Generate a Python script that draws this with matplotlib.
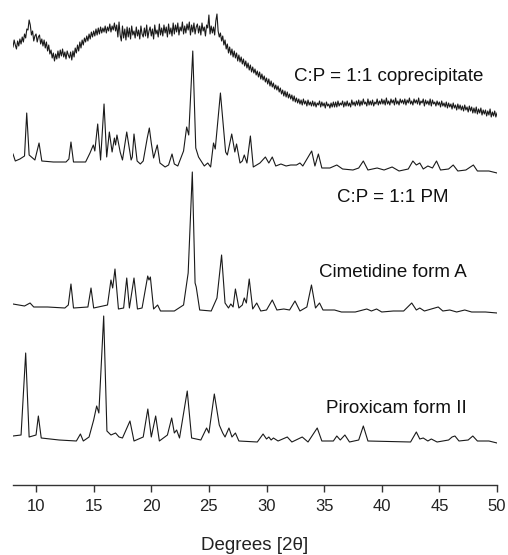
import numpy as np
import matplotlib
matplotlib.use("Agg")
import matplotlib.pyplot as plt

plt.rcParams['font.family'] = ['Liberation Sans', 'DejaVu Sans']

# ---------------- data (2-theta in degrees, intensity in arbitrary counts) -------------
labels = ["C:P = 1:1 coprecipitate", "C:P = 1:1 PM", "Cimetidine form A", "Piroxicam form II"]

# coprecipitate: scan sampled every 0.1 deg from 8 to 50 (one row per degree)
copre_int = [
    68, 75, 70, 66, 74, 69, 76, 71, 78, 73,   # 8
    81, 77, 86, 85, 95, 90, 80, 84, 74, 79,   # 9
    81, 73, 78, 80, 71, 76, 69, 75, 67, 73,   # 10
    64, 70, 61, 65, 57, 62, 54, 61, 56, 64,   # 11
    57, 65, 59, 66, 58, 63, 56, 64, 60, 57,   # 12
    63, 55, 64, 58, 67, 62, 70, 64, 73, 67,   # 13
    75, 70, 77, 73, 79, 74, 81, 76, 83, 78,   # 14
    84, 79, 86, 80, 87, 81, 88, 82, 87, 83,   # 15
    89, 82, 88, 84, 91, 83, 89, 85, 92, 84,   # 16
    90, 78, 93, 80, 74, 89, 77, 86, 75, 88,   # 17
    78, 87, 76, 89, 80, 84, 77, 88, 79, 85,   # 18
    76, 89, 81, 78, 87, 79, 90, 77, 84, 88,   # 19
    79, 86, 76, 90, 81, 85, 78, 91, 80, 87,   # 20
    79, 90, 82, 88, 78, 91, 81, 87, 79, 92,   # 21
    81, 90, 83, 92, 80, 88, 84, 93, 81, 89,   # 22
    82, 91, 85, 93, 80, 90, 83, 92, 81, 88,   # 23
    91, 82, 89, 80, 92, 84, 88, 79, 90, 87,   # 24
    100, 81, 89, 82, 88, 80, 94, 101, 84, 78, # 25
    82, 74, 79, 70, 75, 66, 71, 62, 68, 60,   # 26
    66, 58, 64, 57, 62, 54, 60, 53, 58, 51,   # 27
    56, 49, 54, 47, 52, 45, 50, 43, 48, 42,   # 28
    46, 40, 44, 38, 43, 36, 41, 35, 39, 33,   # 29
    37, 31, 36, 29, 34, 28, 32, 26, 30, 25,   # 30
    29, 23, 27, 21, 25, 19, 24, 18, 23, 17,   # 31
    21, 16, 20, 14, 19, 13, 17, 12, 16, 11,   # 32
    15, 10, 16, 11, 14, 9, 15, 10, 13, 9,     # 33
    14, 9, 13, 8, 12, 10, 14, 8, 13, 9,       # 34
    12, 7, 13, 9, 11, 7, 12, 8, 13, 8,        # 35
    13, 8, 14, 9, 12, 10, 14, 8, 13, 9,       # 36
    14, 9, 12, 8, 15, 10, 13, 9, 14, 10,      # 37
    15, 9, 14, 10, 16, 11, 13, 9, 16, 10,     # 38
    14, 10, 15, 9, 13, 11, 16, 10, 14, 11,    # 39
    16, 11, 15, 10, 17, 11, 14, 10, 16, 12,   # 40
    15, 10, 17, 11, 14, 10, 16, 12, 15, 11,   # 41
    16, 10, 15, 12, 17, 11, 14, 10, 16, 12,   # 42
    15, 11, 17, 10, 14, 12, 16, 9, 15, 11,    # 43
    14, 10, 16, 9, 15, 11, 13, 9, 14, 10,     # 44
    13, 8, 14, 9, 12, 8, 13, 7, 12, 8,        # 45
    11, 6, 12, 7, 10, 5, 11, 6, 10, 5,        # 46
    9, 4, 10, 5, 8, 3, 9, 4, 8, 2,            # 47
    7, 2, 8, 1, 6, 2, 7, 0, 5, 1,             # 48
    5, -1, 4, 0, 6, -2, 3, -1, 4, -2,         # 49
    2]                                        # 50

pm_x = [8.0, 8.2, 8.6, 9.0, 9.19, 9.4, 9.6, 9.9, 10.26, 10.5, 11.5, 12.6, 12.85, 13.03, 13.25,
        14.3, 14.68, 14.97, 15.1, 15.35, 15.6, 15.9, 16.13, 16.36, 16.6, 16.8, 16.9, 17.02,
        17.3, 17.5, 17.87, 18.25, 18.35, 18.5, 18.77, 19.05, 19.3, 19.65, 19.83, 20.0, 20.2,
        20.52, 20.75, 21.2, 21.5, 21.8, 22.0, 22.3, 22.6, 22.8, 23.07, 23.25, 23.6, 23.86,
        24.1, 24.6, 24.9, 25.15, 25.4, 25.55, 26.0, 26.45, 26.6, 26.98, 27.25, 27.4, 27.7,
        27.9, 28.07, 28.3, 28.6, 28.85, 29.43, 29.9, 30.2, 30.5, 30.8, 31.25, 31.7, 32.1,
        32.6, 32.9, 33.15, 33.92, 34.2, 34.5, 34.8, 35.5, 36.1, 36.6, 37.5, 38.0, 38.4, 38.8,
        39.6, 40.2, 40.9, 41.5, 42.3, 42.7, 43.0, 43.3, 43.6, 44.0, 44.4, 44.75, 45.1, 45.8,
        46.2, 46.6, 47.3, 47.95, 48.3, 49.3, 50.0]
pm_int = [19, 12, 14, 17, 60, 18, 16, 13, 30, 12, 11, 11, 14, 31, 11,
          11, 20, 28, 22, 49, 13, 69, 16, 41, 21, 35, 28, 38,
          21, 13, 41, 13, 16, 39, 12, 9, 12, 35, 45, 30, 15,
          28, 10, 6, 8, 19, 9, 7, 16, 22, 46, 38, 122, 25,
          16, 7, 10, 6, 30, 24, 80, 21, 18, 39, 21, 29, 10,
          12, 18, 10, 37, 6, 10, 16, 10, 16, 7, 9, 7, 8,
          8, 10, 7, 22, 7, 19, 5, 5, 8, 4, 3, 5, 12, 3,
          5, 3, 6, 2, 4, 12, 8, 10, 4, 7, 5, 12, 3, 4,
          8, 2, 3, 8, 2, 2, 0]

cim_x = [8.0, 9.0, 9.48, 9.8, 11.0, 12.5, 12.8, 13.03, 13.25, 14.5, 14.77, 15.0, 16.2, 16.5,
         16.65, 16.85, 17.15, 17.6, 17.87, 18.1, 18.5, 18.8, 19.2, 19.69, 19.8, 19.92, 20.2,
         20.55, 20.8, 22.0, 22.8, 23.2, 23.56, 23.8, 23.9, 24.2, 25.2, 25.7, 26.1, 26.4, 26.7,
         26.9, 27.1, 27.3, 27.6, 27.9, 28.07, 28.25, 28.5, 28.8, 29.15, 29.5, 30.0, 30.5, 30.9,
         31.5, 32.0, 32.47, 32.9, 33.5, 33.9, 34.25, 34.6, 34.9, 35.9, 36.5, 37.7, 38.7, 39.1,
         39.55, 40.0, 41.0, 41.9, 42.6, 43.0, 43.3, 43.7, 44.9, 45.3, 45.9, 46.5, 47.2, 47.8,
         49.0, 50.0]
cim_int = [9, 7, 10, 6, 6, 5, 8, 29, 5, 6, 25, 5, 8, 33,
           25, 44, 4, 5, 35, 5, 35, 4, 5, 37, 33, 36, 4,
           8, 2, 2, 8, 40, 141, 30, 26, 3, 2, 15, 58, 10, 5,
           9, 6, 24, 5, 8, 15, 10, 34, 4, 10, 2, 3, 13, 3,
           4, 3, 12, 2, 6, 28, 5, 10, 3, 3, 1, 1, 4, 2,
           4, 1, 2, 2, 10, 3, 5, 2, 6, 2, 3, 1, 3, 1,
           1, 0]

pir_x = [8.0, 8.7, 9.1, 9.4, 10.0, 10.2, 10.45, 12.0, 13.5, 13.85, 14.1, 14.6, 15.0, 15.26,
         15.45, 15.87, 16.15, 16.5, 16.9, 17.2, 17.5, 18.15, 18.5, 19.3, 19.7, 20.0, 20.38,
         20.7, 21.4, 21.77, 22.0, 22.2, 22.45, 23.12, 23.5, 24.3, 24.8, 25.0, 25.47, 25.9,
         26.2, 26.4, 26.74, 27.0, 27.3, 27.6, 29.2, 29.7, 30.0, 30.2, 30.4, 30.6, 31.0, 31.8,
         32.2, 33.1, 33.6, 34.4, 34.8, 35.8, 36.1, 36.4, 36.8, 37.2, 38.0, 38.4, 38.8, 42.5,
         43.0, 43.3, 43.6, 44.0, 44.3, 44.8, 45.8, 46.1, 46.35, 46.7, 47.5, 47.9, 48.3, 49.3,
         50.0]
pir_int = [7, 8, 90, 6, 8, 27, 5, 3, 2, 9, 2, 6, 23, 37,
           30, 127, 12, 8, 10, 6, 5, 22, 2, 6, 34, 6, 27,
           2, 8, 25, 10, 13, 5, 52, 5, 3, 15, 10, 49, 18,
           10, 6, 15, 6, 10, 2, 1, 9, 4, 6, 3, 5, 2, 6,
           1, 6, 1, 15, 2, 2, 7, 3, 8, 1, 3, 17, 2, 1,
           11, 4, 5, 2, 4, 1, 3, 6, 7, 2, 3, 7, 2, 2,
           0]

tick_vals = [10, 15, 20, 25, 30, 35, 40, 45, 50]

# ---------------- layout ------------------------------------------------------------
W, H = 508, 555
fig = plt.figure(figsize=(W / 100, H / 100), dpi=100)
ax = fig.add_axes([13 / W, 70 / H, 484 / W, 485 / H])

offsets = [370, 312, 172, 42]
copre_x = np.linspace(8, 50, len(copre_int))
series = [(copre_x, copre_int), (pm_x, pm_int), (cim_x, cim_int), (pir_x, pir_int)]
line_col = "#1a1a1a"
for (xs, ys), off in zip(series, offsets):
    ax.plot(xs, np.asarray(ys, dtype=float) + off, color=line_col, lw=0.8)

text_pos = [(40.63, 404), (40.97, 283), (40.97, 208), (41.23, 72)]
for lab, (tx, ty) in zip(labels, text_pos):
    ax.text(tx, ty, lab, ha='center', va='baseline', fontsize=13.5, color="#111111")

ax.set_xlim(8, 50)
ax.set_ylim(0, 485)
for s in ['left', 'right', 'top']:
    ax.spines[s].set_visible(False)
ax.spines['bottom'].set_color("#333333")
ax.spines['bottom'].set_linewidth(1.0)
ax.set_yticks([])
ax.set_xticks(tick_vals)
ax.set_xticklabels([str(t) for t in tick_vals])
ax.tick_params(axis='x', direction='out', length=5, width=1.0, color="#333333",
               labelsize=12, labelcolor="#222222", pad=5)
ax.patch.set_alpha(0)

fig.text(255 / W, 1 - 545 / H, "Degrees [2θ]", ha='center', va='center', fontsize=13.5,
         color="#222222")

fig.savefig("out.png", dpi=100, facecolor="white")
